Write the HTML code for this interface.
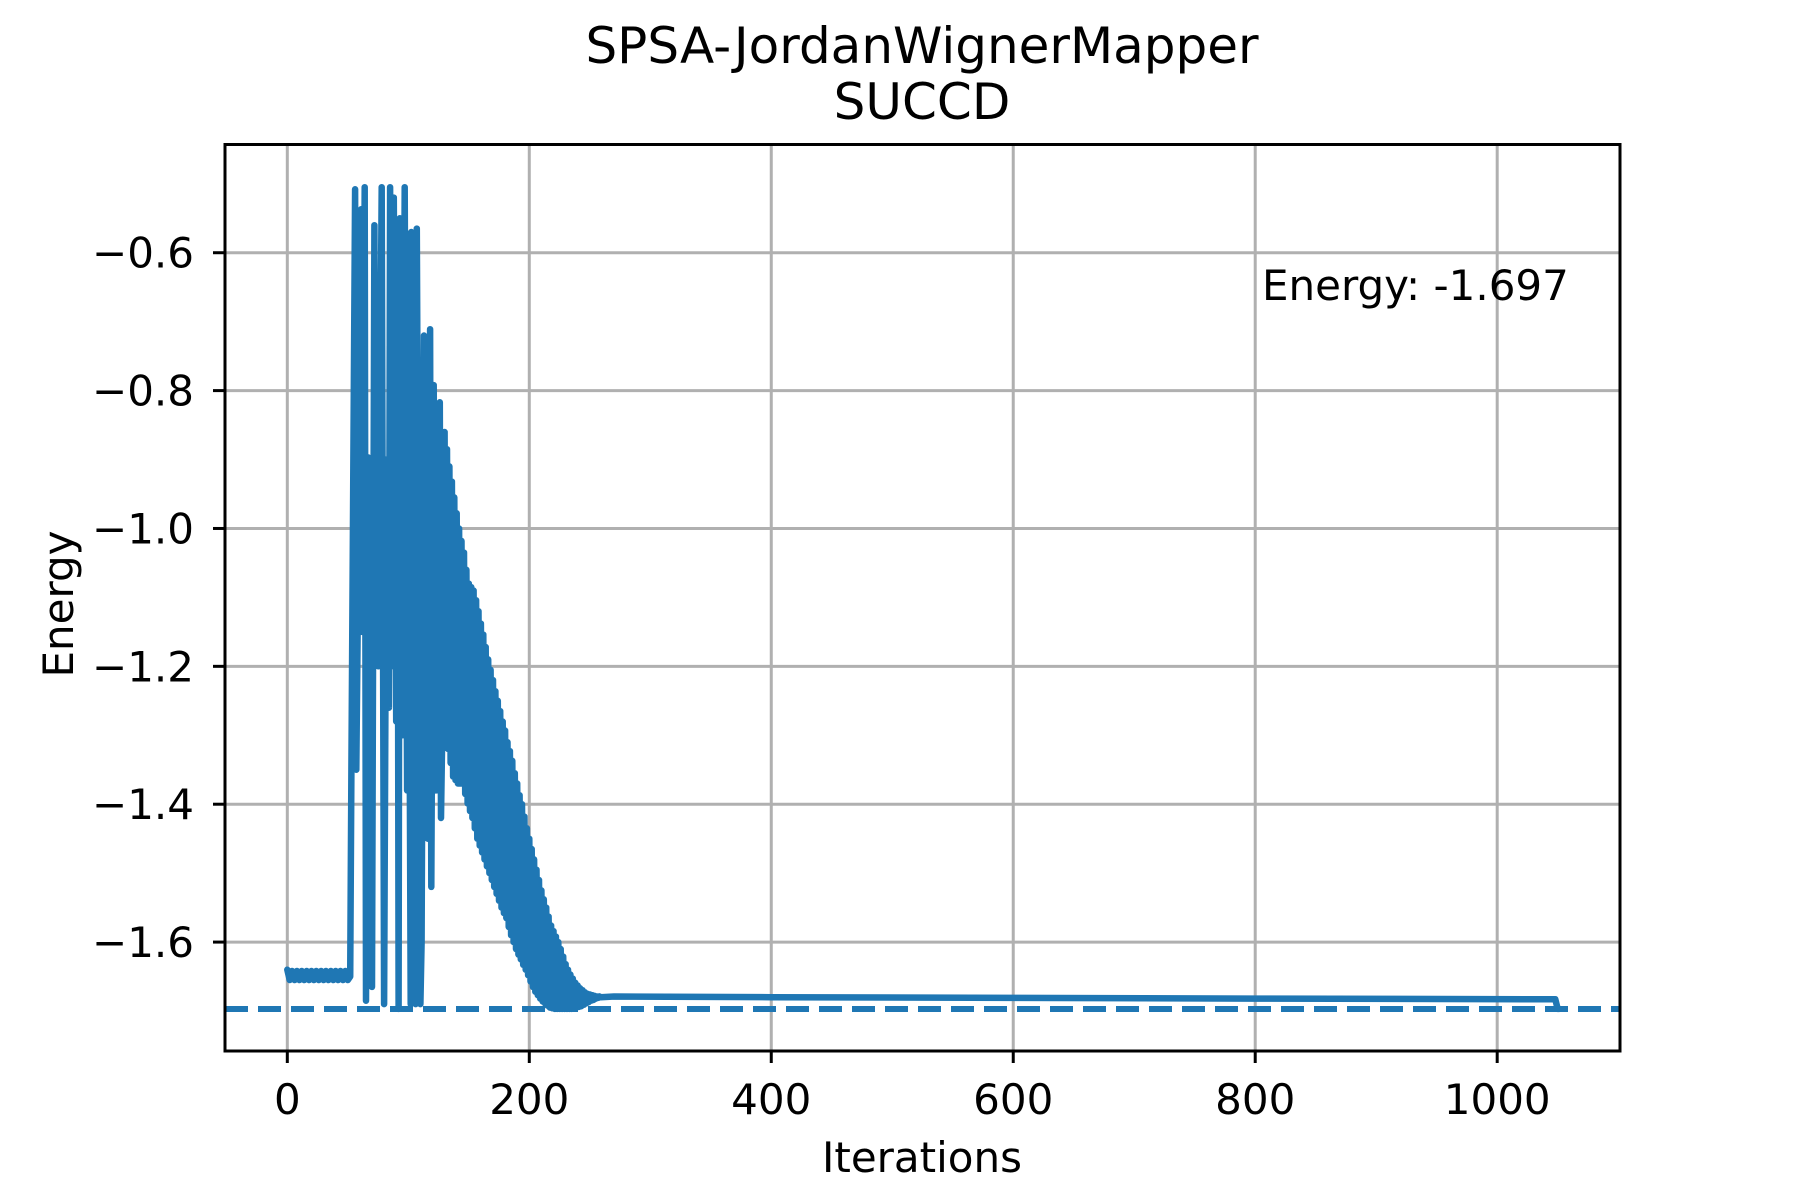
<!DOCTYPE html>
<html><head><meta charset="utf-8"><style>
html,body{margin:0;padding:0;background:#fff;}
svg{display:block;font-family:"DejaVu Sans","Liberation Sans",sans-serif;}
</style></head><body>
<svg id="chart" width="1800" height="1200" viewBox="0 0 1800 1200">
<rect width="1800" height="1200" fill="#fff"/>
<text x="922" y="63" font-size="50" text-anchor="middle">SPSA-JordanWignerMapper</text>
<text x="922" y="119" font-size="50" text-anchor="middle">SUCCD</text>
<g id="grid"></g>
<g id="series"></g>
<g id="axes"></g>
<text x="1262" y="300" font-size="42">Energy: -1.697</text>
<text x="922" y="1172" font-size="42" text-anchor="middle">Iterations</text>
<text x="0" y="0" font-size="42" text-anchor="middle" transform="translate(73,604) rotate(-90)">Energy</text>
</svg>
<script>
// ---- data ----
const xTicks = [0, 200, 400, 600, 800, 1000];
const xTickLabels = ["0", "200", "400", "600", "800", "1000"];
const yTicks = [-0.6, -0.8, -1.0, -1.2, -1.4, -1.6];
const yTickLabels = ["\u22120.6", "\u22120.8", "\u22121.0", "\u22121.2", "\u22121.4", "\u22121.6"];
const referenceEnergy = -1.697;
// flat start band, iterations 0..52 step 2
const flatStart = 0;
const flatStep = 2;
const flatVals = [-1.640,-1.655,-1.642,-1.655,-1.642,-1.655,-1.642,-1.655,-1.642,-1.655,-1.642,-1.655,-1.642,-1.655,-1.642,-1.655,-1.642,-1.655,-1.642,-1.655,-1.642,-1.655,-1.642,-1.655,-1.642,-1.655,-1.650];
// erratic phase keypoints
const wildIters = [53,56,57,58,61,62,64,65,67,68,70,72,73,75,78,80,82,84,85,86,88,90,91,92,93,95,97,99,100,102,102.5,104,106,107,109,110,111,113,115,116,118,119,121,123,126,127,128];
const wildVals = [-1.35,-0.508,-1.35,-1.17,-0.537,-1.15,-0.505,-1.685,-0.897,-1.15,-1.665,-0.56,-1.10,-1.20,-0.505,-1.69,-0.90,-1.26,-0.505,-1.20,-0.52,-1.28,-0.62,-1.697,-0.55,-1.30,-0.505,-1.38,-0.80,-1.69,-0.57,-1.20,-1.69,-0.565,-1.30,-1.69,-1.60,-0.72,-1.37,-1.45,-0.711,-1.52,-0.792,-1.38,-0.817,-1.42,-1.30];
// decaying oscillation: high at oscStart + k*oscStep, low one iteration later
const oscStart = 130;
const oscStep = 2;
const oscHigh = [-0.86,-0.885,-0.91,-0.932,-0.955,-0.978,-1.00,-1.018,-1.035,-1.06,-1.08,-1.085,-1.09,-1.104,-1.12,-1.138,-1.154,-1.172,-1.19,-1.205,-1.22,-1.236,-1.25,-1.265,-1.28,-1.293,-1.31,-1.323,-1.337,-1.355,-1.37,-1.387,-1.40,-1.418,-1.435,-1.45,-1.465,-1.48,-1.495,-1.51,-1.525,-1.538,-1.55,-1.563,-1.576,-1.584,-1.592,-1.60,-1.61,-1.621,-1.632,-1.64,-1.647,-1.653,-1.659,-1.663,-1.667,-1.67,-1.673,-1.675,-1.676,-1.677,-1.678,-1.679,-1.679];
const oscLow = [-1.30,-1.32,-1.34,-1.36,-1.365,-1.37,-1.37,-1.37,-1.385,-1.399,-1.41,-1.42,-1.435,-1.45,-1.46,-1.47,-1.48,-1.49,-1.50,-1.51,-1.52,-1.53,-1.54,-1.55,-1.558,-1.565,-1.578,-1.59,-1.60,-1.61,-1.618,-1.625,-1.633,-1.64,-1.648,-1.657,-1.665,-1.672,-1.677,-1.682,-1.686,-1.689,-1.692,-1.695,-1.696,-1.697,-1.697,-1.697,-1.697,-1.697,-1.697,-1.697,-1.697,-1.696,-1.695,-1.694,-1.693,-1.691,-1.689,-1.687,-1.685,-1.684,-1.682,-1.681,-1.680];
// converged tail
const tailIters = [270, 400, 600, 800, 1048, 1050, 1051];
const tailVals = [-1.679, -1.680, -1.681, -1.682, -1.683, -1.697, -1.697];

// ---- axes ----
const L = 225, R = 1620, T = 144.5, B = 1051;
const xMin = -51.5, xMax = 1101.5, yMin = -1.758, yMax = -0.443;
const xS = v => L + (v - xMin) / (xMax - xMin) * (R - L);
const yS = v => B - (v - yMin) / (yMax - yMin) * (B - T);
const NS = "http://www.w3.org/2000/svg";
function mk(tag, attrs, parent) {
  const e = document.createElementNS(NS, tag);
  for (const k in attrs) e.setAttribute(k, attrs[k]);
  parent.appendChild(e);
  return e;
}
const grid = document.getElementById('grid');
const axes = document.getElementById('axes');
const series = document.getElementById('series');

xTicks.forEach((t, i) => {
  const x = xS(t);
  const g = mk('line', {x1: x, x2: x, y1: T, y2: B, stroke: '#b0b0b0', 'stroke-width': 3}, grid);
  
  
  const tk = mk('line', {x1: x, x2: x, y1: B, y2: B + 12, stroke: '#000', 'stroke-width': 3}, axes);
  
  
  const lb = mk('text', {x: x, y: 1114, 'font-size': 42, 'text-anchor': 'middle'}, axes);
  lb.textContent = xTickLabels[i];
  
  
});
yTicks.forEach((t, i) => {
  const y = yS(t);
  const g = mk('line', {x1: L, x2: R, y1: y, y2: y, stroke: '#b0b0b0', 'stroke-width': 3}, grid);
  
  
  const tk = mk('line', {x1: L - 12, x2: L, y1: y, y2: y, stroke: '#000', 'stroke-width': 3}, axes);
  
  
  const lb = mk('text', {x: 194, y: y + 15, 'font-size': 42, 'text-anchor': 'end'}, axes);
  lb.textContent = yTickLabels[i];
  
  
});
const frame = mk('rect', {x: L, y: T, width: R - L, height: B - T, fill: 'none', stroke: '#000', 'stroke-width': 3}, axes);



// ---- series ----
const pts = [];
flatVals.forEach((v, k) => pts.push([flatStart + k * flatStep, v]));
wildIters.forEach((it, k) => pts.push([it, wildVals[k]]));
const nOsc = Math.min(oscHigh.length, oscLow.length);
for (let k = 0; k < nOsc; k++) {
  pts.push([oscStart + k * oscStep, oscHigh[k]]);
  pts.push([oscStart + k * oscStep + oscStep / 2, oscLow[k]]);
}
tailIters.forEach((it, k) => pts.push([it, tailVals[k]]));
const d = pts.map((p, i) => (i ? 'L' : 'M') + xS(p[0]).toFixed(1) + ' ' + yS(p[1]).toFixed(1)).join('');

const ref = mk('line', {x1: L, x2: R, y1: yS(referenceEnergy), y2: yS(referenceEnergy), stroke: '#1f77b4', 'stroke-width': 6, 'stroke-dasharray': '23 10'}, series);


const line = mk('path', {d: d, fill: 'none', stroke: '#1f77b4', 'stroke-width': 6.5, 'stroke-linejoin': 'round', 'stroke-linecap': 'round'}, series);


</script>
</body></html>
